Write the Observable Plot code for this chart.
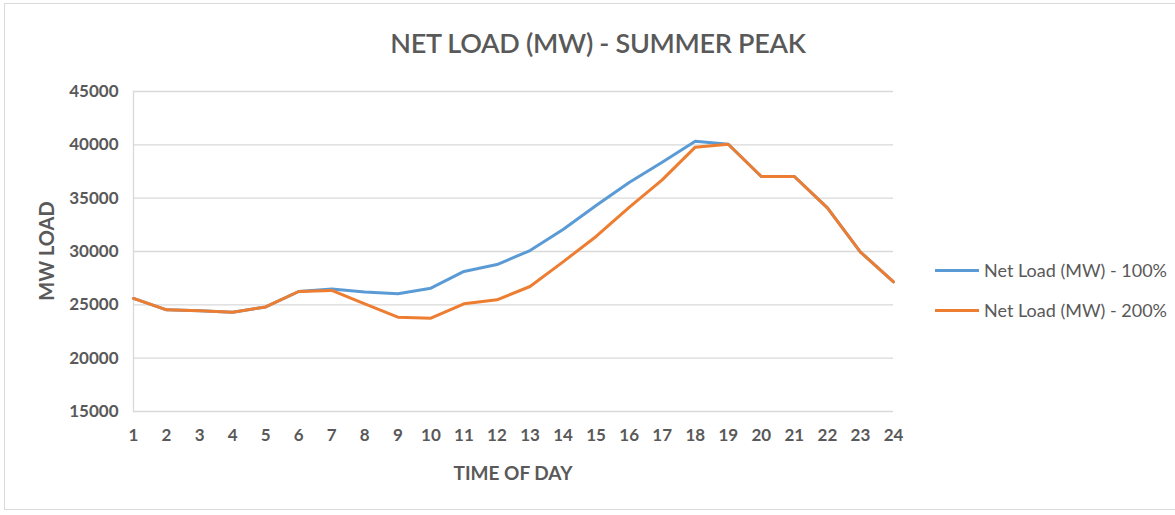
<!DOCTYPE html>
<html><head><meta charset="utf-8">
<script src="https://cdn.jsdelivr.net/npm/d3@7"></script>
<script src="https://cdn.jsdelivr.net/npm/@observablehq/plot@0.6"></script>
<style>
body{margin:0;background:#fff;font-family:Lato,"Open Sans",sans-serif;}
#wrap{position:relative;width:1175px;height:515px;overflow:hidden;background:#fff}
#frame{position:absolute;left:4px;top:3px;width:1200px;height:507px;border:1.5px solid #d9d9d9;box-sizing:border-box}
#chart{position:absolute;left:0;top:0}
#title{position:absolute;left:0;width:1196px;top:26px;text-align:center;font-size:27px;font-weight:600;color:#595959;letter-spacing:-0.3px;white-space:nowrap}
#xlabel{position:absolute;left:133px;width:760px;top:461px;text-align:center;font-size:19px;font-weight:bold;color:#595959}
#ylabel{position:absolute;left:46px;top:251px;transform:translate(-50%,-50%) rotate(-90deg);font-size:20px;font-weight:bold;color:#595959;white-space:nowrap}
#legend{position:absolute;left:935px;top:250px;font-size:18px;color:#595959}
#legend .item{display:flex;align-items:center;height:40px;white-space:nowrap}
#legend .sw{display:inline-block;width:44px;height:3px;margin-right:5px}
</style></head>
<body>
<div id="wrap">
  <div id="frame"></div>
  <div id="chart"></div>
  <div id="title">NET LOAD (MW) - SUMMER PEAK</div>
  <div id="xlabel">TIME OF DAY</div>
  <div id="ylabel">MW LOAD</div>
  <div id="legend"></div>
</div>
<script>
const hours = [1,2,3,4,5,6,7,8,9,10,11,12,13,14,15,16,17,18,19,20,21,22,23,24];
const seriesNames = ["Net Load (MW) - 100%", "Net Load (MW) - 200%"];
const seriesColors = ["#5B9BD5", "#ED7D31"];
const load100 = [25600,24530,24450,24310,24800,26250,26480,26200,26030,26560,28130,28780,30090,32060,34310,36470,38370,40340,40050,37030,37030,34090,29950,27160];
const load200 = [25600,24530,24450,24310,24800,26250,26350,25100,23840,23750,25100,25470,26720,29030,31410,34130,36720,39780,40050,37030,37030,34090,29950,27160];
const yTicks = [15000,20000,25000,30000,35000,40000,45000];

const data = [];
hours.forEach((h,i)=>data.push({hour:h, mw:load100[i], series:seriesNames[0]}));
hours.forEach((h,i)=>data.push({hour:h, mw:load200[i], series:seriesNames[1]}));

const chart = Plot.plot({
  width:1175, height:515,
  marginLeft:133, marginRight:282, marginTop:91, marginBottom:104,
  style:{background:"transparent", fontFamily:"Lato, 'Open Sans', sans-serif", color:"#595959"},
  x:{domain:[1,24], ticks:hours, label:null},
  y:{domain:[15000,45000], ticks:yTicks, label:null},
  color:{domain:seriesNames, range:seriesColors},
  marks:[
    Plot.gridY(yTicks, {stroke:"#d9d9d9", strokeOpacity:1, strokeWidth:1.3}),
    Plot.frame({anchor:"left", stroke:"#d9d9d9", strokeWidth:1.3}),
    Plot.axisY(yTicks, {tickSize:0, tickPadding:15, fontSize:17, fontWeight:"bold", fill:"#595959", tickFormat:d=>String(d), label:null}),
    Plot.axisX(hours, {tickSize:0, tickPadding:17, fontSize:17, fontWeight:"bold", fill:"#595959", tickFormat:d=>String(d), label:null}),
    Plot.line(data, {x:"hour", y:"mw", z:"series", stroke:"series", strokeWidth:3, strokeLinejoin:"round"})
  ]
});
document.getElementById("chart").appendChild(chart);

const legend = document.getElementById("legend");
seriesNames.forEach((n,i)=>{
  const it = document.createElement("div");
  it.className = "item";
  const sw = document.createElement("span");
  sw.className = "sw"; sw.style.background = seriesColors[i];
  it.appendChild(sw);
  it.appendChild(document.createTextNode(n));
  legend.appendChild(it);
});
</script>
</body></html>
